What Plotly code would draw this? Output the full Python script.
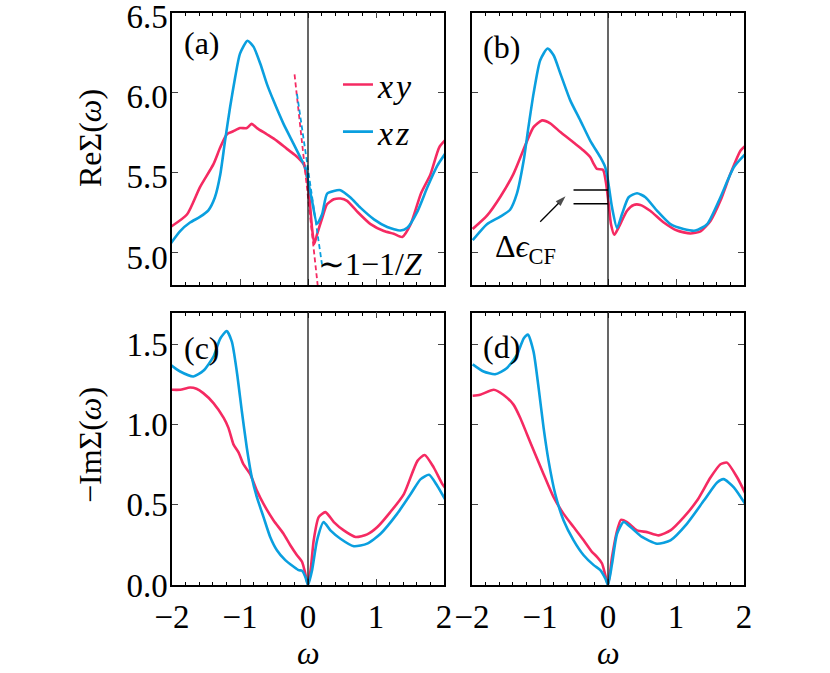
import plotly.graph_objects as go

# ---------------- data ----------------
# panel (a): Re Sigma, noisy data
a_xy_x = [-2.03, -1.78, -1.59, -1.39, -1.29, -1.19, -1.10, -1.0, -0.90, -0.83, -0.75, -0.60, -0.457, -0.31,
          -0.187, -0.113, -0.064, -0.015, 0.025, 0.059, 0.093, 0.133, 0.21, 0.28, 0.38, 0.477, 0.575, 0.72,
          0.92, 1.116, 1.26, 1.386, 1.51, 1.66, 1.80, 1.93, 2.03]
a_xy_y = [5.16, 5.24, 5.41, 5.555, 5.66, 5.743, 5.76, 5.78, 5.78, 5.806, 5.78, 5.74, 5.70, 5.65,
          5.61, 5.58, 5.555, 5.47, 5.325, 5.157, 5.057, 5.116, 5.22, 5.304, 5.335, 5.34, 5.325, 5.26,
          5.18, 5.137, 5.12, 5.10, 5.18, 5.37, 5.49, 5.66, 5.71]
a_xz_x = [-2.03, -1.88, -1.735, -1.59, -1.465, -1.37, -1.29, -1.22, -1.146, -1.07, -1.0, -0.89, -0.80,
          -0.70, -0.605, -0.506, -0.36, -0.21, -0.113, -0.04, 0.0, 0.06, 0.133, 0.206, 0.28, 0.38, 0.477,
          0.624, 0.77, 0.97, 1.165, 1.36, 1.46, 1.61, 1.755, 1.90, 2.03]
a_xz_y = [5.053, 5.137, 5.19, 5.225, 5.266, 5.346, 5.49, 5.70, 5.91, 6.10, 6.245, 6.325, 6.287,
          6.18, 6.056, 5.95, 5.806, 5.68, 5.597, 5.534, 5.45, 5.325, 5.183, 5.24, 5.37, 5.387, 5.392,
          5.346, 5.283, 5.21, 5.162, 5.14, 5.157, 5.26, 5.41, 5.544, 5.628]

# panel (b): Re Sigma, smoothed data
b_xy_x = [-1.99, -1.78, -1.585, -1.39, -1.19, -1.095, -0.97, -0.85, -0.70, -0.506, -0.36, -0.26, -0.21,
          -0.162, -0.074, -0.03, 0.01, 0.044, 0.093, 0.157, 0.28, 0.378, 0.476, 0.62, 0.82, 1.016, 1.21,
          1.36, 1.507, 1.654, 1.80, 1.95, 2.047]
b_xy_y = [5.15, 5.233, 5.35, 5.494, 5.70, 5.786, 5.828, 5.81, 5.755, 5.69, 5.64, 5.598, 5.556,
          5.525, 5.52, 5.44, 5.306, 5.18, 5.114, 5.16, 5.264, 5.30, 5.30, 5.264, 5.19, 5.14, 5.122,
          5.135, 5.20, 5.327, 5.494, 5.64, 5.68]
b_xz_x = [-1.99, -1.78, -1.585, -1.44, -1.34, -1.24, -1.17, -1.095, -0.997, -0.889, -0.80, -0.70,
          -0.555, -0.407, -0.26, -0.113, -0.04, 0.0, 0.059, 0.133, 0.206, 0.304, 0.427, 0.55, 0.72,
          0.918, 1.11, 1.286, 1.458, 1.654, 1.85, 2.047]
b_xz_y = [5.08, 5.18, 5.227, 5.27, 5.37, 5.577, 5.786, 5.995, 6.204, 6.277, 6.235, 6.12,
          5.953, 5.828, 5.70, 5.598, 5.535, 5.452, 5.285, 5.156, 5.243, 5.348, 5.373, 5.348, 5.264,
          5.18, 5.15, 5.14, 5.18, 5.348, 5.535, 5.63]

# panel (c): -Im Sigma, noisy data
c_xy_x = [-2.03, -1.88, -1.735, -1.64, -1.54, -1.39, -1.24, -1.17, -1.096, -1.02, -0.95, -0.85, -0.752,
          -0.654, -0.506, -0.36, -0.26, -0.162, -0.088, -0.04, 0.0, 0.044, 0.084, 0.157, 0.256, 0.38,
          0.526, 0.70, 0.87, 1.02, 1.21, 1.41, 1.61, 1.716, 1.85, 1.976, 2.05]
c_xy_y = [1.219, 1.219, 1.233, 1.225, 1.198, 1.136, 1.043, 0.981, 0.878, 0.826, 0.754, 0.692, 0.589,
          0.506, 0.403, 0.320, 0.248, 0.186, 0.145, 0.072, 0.0, 0.114, 0.279, 0.424, 0.455, 0.393,
          0.341, 0.30, 0.316, 0.362, 0.455, 0.568, 0.775, 0.812, 0.733, 0.63, 0.589]
c_xz_x = [-2.03, -1.88, -1.686, -1.54, -1.39, -1.29, -1.195, -1.12, -1.047, -0.973, -0.90, -0.826,
          -0.752, -0.654, -0.556, -0.457, -0.334, -0.21, -0.138, -0.088, -0.04, 0.0, 0.06, 0.133, 0.23,
          0.33, 0.477, 0.674, 0.87, 1.067, 1.31, 1.51, 1.657, 1.78, 1.90, 2.04]
c_xz_y = [1.378, 1.333, 1.302, 1.337, 1.426, 1.539, 1.585, 1.519, 1.333, 1.085, 0.857, 0.671,
          0.548, 0.424, 0.30, 0.217, 0.155, 0.114, 0.093, 0.089, 0.052, 0.0, 0.093, 0.279, 0.393,
          0.341, 0.289, 0.242, 0.258, 0.320, 0.444, 0.568, 0.661, 0.688, 0.62, 0.517]

# panel (d): -Im Sigma, smoothed data
d_xy_x = [-1.99, -1.88, -1.68, -1.54, -1.39, -1.29, -1.19, -1.07, -0.947, -0.80, -0.653, -0.506,
          -0.358, -0.236, -0.162, -0.088, -0.04, 0.0, 0.06, 0.123, 0.19, 0.28, 0.427, 0.574, 0.746,
          0.918, 1.115, 1.31, 1.507, 1.654, 1.75, 1.90, 2.047]
d_xy_y = [1.182, 1.188, 1.219, 1.188, 1.126, 1.043, 0.940, 0.816, 0.692, 0.548, 0.444, 0.362,
          0.279, 0.207, 0.176, 0.134, 0.062, 0.0, 0.176, 0.32, 0.407, 0.393, 0.341, 0.33, 0.31,
          0.341, 0.424, 0.527, 0.671, 0.754, 0.764, 0.671, 0.548]
d_xz_x = [-1.99, -1.83, -1.66, -1.49, -1.34, -1.24, -1.178, -1.095, -1.02, -0.947, -0.874, -0.776,
          -0.653, -0.506, -0.358, -0.21, -0.113, -0.04, 0.0, 0.06, 0.133, 0.23, 0.33, 0.50, 0.72,
          0.918, 1.16, 1.41, 1.605, 1.70, 1.85, 2.047]
d_xz_y = [1.378, 1.333, 1.316, 1.353, 1.436, 1.539, 1.564, 1.457, 1.229, 0.981, 0.775, 0.568,
          0.403, 0.279, 0.186, 0.124, 0.093, 0.041, 0.0, 0.134, 0.32, 0.393, 0.362, 0.30, 0.258,
          0.279, 0.382, 0.527, 0.64, 0.661, 0.61, 0.486]

# tangent lines (slope 1-1/Z) in panel (a)
tan_xy_x = [-0.198, 0.142]
tan_xy_y = [6.115, 4.80]
tan_xz_x = [-0.162, 0.206]
tan_xz_y = [5.994, 4.928]

# crystal-field splitting markers in panel (b)
cf_levels = [5.394, 5.308]
cf_x = [-0.507, 0.0]
cf_arrow_x = [-0.997, -0.625]
cf_arrow_y = [5.195, 5.355]

series_names = ["<i>x\u200ay</i>", "<i>x\u200az</i>"]
x_ticks = [-2, -1, 0, 1, 2]
re_ticks = [5.0, 5.5, 6.0, 6.5]
im_ticks = [0.0, 0.5, 1.0, 1.5]
panel_labels = ["(a)", "(b)", "(c)", "(d)"]

# ---------------- styling ----------------
RED = "#F52A62"
BLUE = "#0A9FDF"
FONT = "Liberation Serif"
LW = 2.6

fig = go.Figure()

panels = [
    ("x", "y", a_xy_x, a_xy_y, a_xz_x, a_xz_y),
    ("x2", "y2", b_xy_x, b_xy_y, b_xz_x, b_xz_y),
    ("x3", "y3", c_xy_x, c_xy_y, c_xz_x, c_xz_y),
    ("x4", "y4", d_xy_x, d_xy_y, d_xz_x, d_xz_y),
]

for i, (xa, ya, x1, y1, x2, y2) in enumerate(panels):
    fig.add_trace(go.Scatter(x=x1, y=y1, xaxis=xa, yaxis=ya, mode="lines",
                             line=dict(color=RED, width=LW, shape="spline", smoothing=0.6),
                             name=series_names[0], legendgroup="xy", showlegend=(i == 0)))
    fig.add_trace(go.Scatter(x=x2, y=y2, xaxis=xa, yaxis=ya, mode="lines",
                             line=dict(color=BLUE, width=LW, shape="spline", smoothing=0.6),
                             name=series_names[1], legendgroup="xz", showlegend=(i == 0)))

# dashed tangents
fig.add_trace(go.Scatter(x=tan_xy_x, y=tan_xy_y, xaxis="x", yaxis="y", mode="lines",
                         line=dict(color=RED, width=1.8, dash="5px,3px"), showlegend=False))
fig.add_trace(go.Scatter(x=tan_xz_x, y=tan_xz_y, xaxis="x", yaxis="y", mode="lines",
                         line=dict(color=BLUE, width=1.8, dash="5px,3px"), showlegend=False))

# Crystal field lines
for lev in cf_levels:
    fig.add_trace(go.Scatter(x=cf_x, y=[lev, lev], xaxis="x2", yaxis="y2", mode="lines",
                             line=dict(color="black", width=1.5), showlegend=False))
# arrow pointing to the splitting
fig.add_trace(go.Scatter(x=cf_arrow_x, y=cf_arrow_y, xaxis="x2", yaxis="y2", mode="lines+markers",
                         line=dict(color="black", width=1.3),
                         marker=dict(symbol="arrow", size=[0, 11], angleref="previous",
                                     color="black", line=dict(width=0)),
                         showlegend=False, hoverinfo="skip"))

# zero lines
shapes = []
for xa, ya in [("x", "y"), ("x2", "y2"), ("x3", "y3"), ("x4", "y4")]:
    shapes.append(dict(type="line", xref=xa, yref=f"{ya} domain", x0=0, x1=0, y0=0, y1=1,
                       line=dict(color="black", width=1.2)))

W, H = 830, 673
xdom = [[172 / W, 444 / W], [472 / W, 744 / W]]
ydom = [[388 / H, 660.3 / H], [88 / H, 360.3 / H]]

tickfont = dict(family=FONT, size=33, color="black")

def xaxis_cfg(col, row, anchor):
    return dict(domain=xdom[col], anchor=anchor, range=[-2, 2], tickvals=x_ticks,
                showticklabels=(row == 1), ticks="inside", ticklen=6, tickwidth=1.2,
                mirror="ticks", showline=True, linewidth=1.5, linecolor="black",
                showgrid=False, zeroline=False, tickfont=tickfont, automargin=False,
                minor=dict(dtick=0.2, tick0=0, ticks="inside", ticklen=3.5, tickwidth=1.1,
                           tickcolor="black", showgrid=False),
                ticklabelstandoff=2, ticklabeloverflow="allow")

def yaxis_cfg(row, col, anchor):
    rng = [4.8, 6.5005] if row == 0 else [0, 1.7]
    tv = re_ticks if row == 0 else im_ticks
    return dict(domain=ydom[row], anchor=anchor, range=rng, tickvals=tv, tickformat=".1f",
                showticklabels=(col == 0), ticks="inside", ticklen=6, tickwidth=1.2,
                mirror="ticks", showline=True, linewidth=1.5, linecolor="black",
                showgrid=False, zeroline=False, tickfont=tickfont, automargin=False,
                ticklabelstandoff=-4, ticklabeloverflow="allow",
                ticklabelshift=(4 if row == 0 else 0))

annotations = []
label_pos = [("x", "y", 0.109, 0.888), ("x2", "y2", 0.109, 0.875),
             ("x3", "y3", 0.109, 0.869), ("x4", "y4", 0.109, 0.875)]
for lab, (xa, ya, px, py) in zip(panel_labels, label_pos):
    annotations.append(dict(text=lab, xref=f"{xa} domain", yref=f"{ya} domain", x=px, y=py,
                            xanchor="center", yanchor="middle",
                            showarrow=False, font=dict(family=FONT, size=32, color="black")))

# axis titles
title_font = dict(family=FONT, size=32, color="black")
annotations.append(dict(text="ReΣ(<i>ω</i>)", xref="paper", yref="paper", x=90 / W, y=1 - 138 / H,
                        textangle=-90, xanchor="center", yanchor="middle", showarrow=False,
                        font=title_font))
annotations.append(dict(text="−ImΣ(<i>ω</i>)", xref="paper", yref="paper", x=90 / W, y=1 - 445 / H,
                        textangle=-90, xanchor="center", yanchor="middle", showarrow=False,
                        font=title_font))
for xa in ["x3", "x4"]:
    annotations.append(dict(text="<i>ω</i>", xref=f"{xa} domain", yref="paper", x=0.5, y=1 - 653 / H,
                            xanchor="center", yanchor="middle", showarrow=False, font=title_font))

annotations.append(dict(text="∼1−1/<i>Z</i>", xref="x", yref="y", x=0.12, y=4.93,
                        xanchor="left", yanchor="middle", showarrow=False,
                        font=dict(family=FONT, size=32, color="black")))
annotations.append(dict(text="Δ<i>ϵ</i><sub>CF</sub>", xref="x2", yref="y2", x=-1.22, y=5.03,
                        xanchor="center", yanchor="middle", showarrow=False,
                        font=dict(family=FONT, size=32, color="black")))

fig.update_layout(
    width=W, height=H,
    margin=dict(l=0, r=0, t=0, b=0),
    paper_bgcolor="white", plot_bgcolor="white",
    font=dict(family=FONT, color="black"),
    xaxis=xaxis_cfg(0, 0, "y"), yaxis=yaxis_cfg(0, 0, "x"),
    xaxis2=xaxis_cfg(1, 0, "y2"), yaxis2=yaxis_cfg(0, 1, "x2"),
    xaxis3=xaxis_cfg(0, 1, "y3"), yaxis3=yaxis_cfg(1, 0, "x3"),
    xaxis4=xaxis_cfg(1, 1, "y4"), yaxis4=yaxis_cfg(1, 1, "x4"),
    shapes=shapes, annotations=annotations,
    legend=dict(x=0.4072, y=0.917, xanchor="left", yanchor="top", bgcolor="rgba(0,0,0,0)",
                font=dict(family=FONT, size=34, color="black"), tracegroupgap=0,
                itemwidth=30),
)

fig.write_html("out.html", config={"displayModeBar": False},
               post_script="document.body.style.margin='0';document.body.style.overflow='hidden';")
